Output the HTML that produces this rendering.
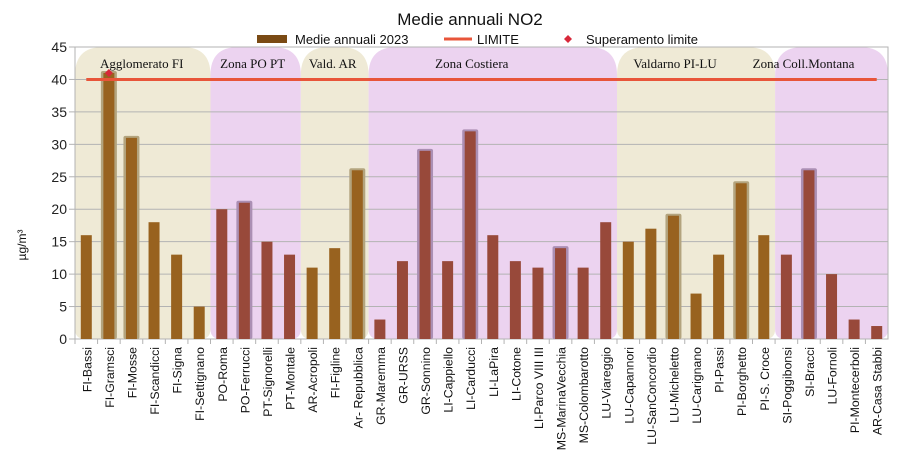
<!DOCTYPE html>
<html><head><meta charset="utf-8"><style>
body{margin:0;background:#fff;}
svg{display:block;font-family:"Liberation Sans",sans-serif;}
</style></head><body>
<svg id="chart" width="905" height="463"></svg>
<script>
const categories=["FI-Bassi","FI-Gramsci","FI-Mosse","FI-Scandicci","FI-Signa","FI-Settignano","PO-Roma","PO-Ferrucci","PT-Signorelli","PT-Montale","AR-Acropoli","FI-Figline","Ar- Repubblica","GR-Maremma","GR-URSS","GR-Sonnino","LI-Cappiello","LI-Carducci","LI-LaPira","LI-Cotone","LI-Parco VIII III","MS-MarinaVecchia","MS-Colombarotto","LU-Viareggio","LU-Capannori","LU-SanConcordio","LU-Micheletto","LU-Carignano","PI-Passi","PI-Borghetto","PI-S. Croce","SI-Poggibonsi","SI-Bracci","LU-Fornoli","PI-Montecerboli","AR-Casa Stabbi"];
const values=[16,41,31,18,13,5,20,21,15,13,11,14,26,3,12,29,12,32,16,12,11,14,11,18,15,17,19,7,13,24,16,13,26,10,3,2];
const highlighted=[0,1,1,0,0,0,0,1,0,0,0,0,1,0,0,1,0,1,0,0,0,1,0,0,0,0,1,0,0,1,0,0,1,0,0,0];
const limitValue=[40];
const yTicks=[0,5,10,15,20,25,30,35,40,45];
const zoneNames=["Agglomerato FI","Zona PO PT","Vald. AR","Zona Costiera","Valdarno PI-LU","Zona Coll.Montana"];
const zoneStart=[0,6,10,13,24,31];
const zoneEnd=[5,9,12,23,30,35];
const NS="http://www.w3.org/2000/svg";
const svg=document.getElementById('chart');
const L=75,R=888,T=47,B=339;
const step=(R-L)/categories.length;
const x=i=>L+step*(i+0.5);
const y=v=>B-(v/45)*(B-T);
function mk(t,a,p){const e=document.createElementNS(NS,t);for(const k in a)e.setAttribute(k,a[k]);(p||svg).appendChild(e);return e;}
function zoneOf(i){for(let z=0;z<zoneStart.length;z++)if(i>=zoneStart[z]&&i<=zoneEnd[z])return z;return 0;}
// zones
zoneNames.forEach((n,i)=>{
  const x0=L+step*zoneStart[i], x1=L+step*(zoneEnd[i]+1);
  const rt=28, rb=10;
  const d=`M${x0},${T+rt} Q${x0},${T} ${x0+rt},${T} L${x1-rt},${T} Q${x1},${T} ${x1},${T+rt} L${x1},${B-rb} Q${x1},${B} ${x1-rb},${B} L${x0+rb},${B} Q${x0},${B} ${x0},${B-rb} Z`;
  const r=mk('path',{d:d,fill:i%2?'#ecd3f0':'#efead6'});
  
  
});
// grid
yTicks.forEach(v=>{
  const g=mk('line',{x1:L,x2:R,y1:y(v),y2:y(v),stroke:'#b3b3b3','stroke-width':1});
  
  
  mk('line',{x1:L-6,x2:L,y1:y(v),y2:y(v),stroke:'#b3b3b3'});
  const t=mk('text',{x:L-8,y:y(v)+5,'text-anchor':'end','font-size':14,fill:'#222'});t.textContent=v;
  
  
});
mk('rect',{x:L,y:T,width:R-L,height:B-T,fill:'none',stroke:'#b3b3b3'});
// zone labels
const labelOffset=[-1,-3,-2,-21,-21,-28];
zoneNames.forEach((n,i)=>{
  const x0=L+step*zoneStart[i], x1=L+step*(zoneEnd[i]+1);
  const t=mk('text',{x:(x0+x1)/2+labelOffset[i],y:68,'text-anchor':'middle','font-size':13,'font-family':'Liberation Serif, serif',fill:'#111'});t.textContent=n;
  
  
});
// bars
values.forEach((v,i)=>{
  const pink=zoneOf(i)%2;
  if(highlighted[i]){const h=mk('rect',{x:x(i)-8,y:y(v)-2,width:16,height:B-y(v)+2,rx:2,fill:pink?'#ab8fb4':'#b3a47e'});
    }
  const b=mk('rect',{x:x(i)-5.5,y:y(v),width:11,height:B-y(v),fill:pink?'#98493a':'#98621f'});
  
  
  mk('line',{x1:L+step*i,x2:L+step*i,y1:B,y2:B+5,stroke:'#b3b3b3'});
  const t=mk('text',{transform:`translate(${x(i)+5},${B+8}) rotate(-90)`,'text-anchor':'end','font-size':12.3,fill:'#111'});t.textContent=categories[i];
  
  
});
// limit line
const ll=mk('line',{x1:x(0),x2:x(categories.length-1),y1:y(limitValue[0]),y2:y(limitValue[0]),stroke:'#e8553a','stroke-width':3});


values.forEach((v,i)=>{if(v>limitValue[0]){const m=mk('path',{d:`M${x(i)},${y(v)-4} l4,4 l-4,4 l-4,-4z`,fill:'#d8283a'});
  }});
// title
const tt=mk('text',{x:470,y:25,'text-anchor':'middle','font-size':17,fill:'#111'});tt.textContent='Medie annuali NO2';

// legend
const lg=mk('g',{});
mk('rect',{x:257,y:35,width:30,height:8,fill:'#7a4a14'},lg);
let t1=mk('text',{x:295,y:44,'font-size':13,fill:'#111'},lg);t1.textContent='Medie annuali  2023';
mk('line',{x1:444,x2:472,y1:39,y2:39,stroke:'#e8553a','stroke-width':3},lg);
let t2=mk('text',{x:477,y:44,'font-size':13,fill:'#111'},lg);t2.textContent='LIMITE';
mk('path',{d:'M568,35 l4,4 l-4,4 l-4,-4z',fill:'#d8283a'},lg);
let t3=mk('text',{x:586,y:44,'font-size':13,fill:'#111'},lg);t3.textContent='Superamento limite';
// y-axis title
const yt=mk('text',{transform:'translate(26,245) rotate(-90)','text-anchor':'middle','font-size':12,fill:'#111'});yt.textContent='µg/m³';

</script>
</body></html>
